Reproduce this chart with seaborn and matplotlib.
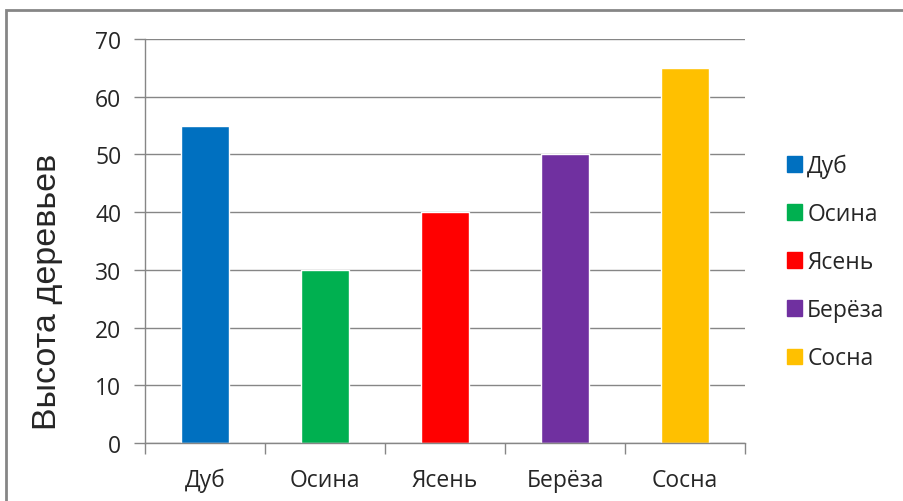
import pandas as pd
import matplotlib
matplotlib.use("Agg")
import matplotlib.pyplot as plt
import matplotlib.patches as mpatches
import seaborn as sns

trees = ["Дуб", "Осина", "Ясень", "Берёза", "Сосна"]
heights = [55, 30, 40, 50, 65]
colors = ["#0070C0", "#00B050", "#FF0000", "#7030A0", "#FFC000"]
y_label = "Высота деревьев"

grid_col = "#868686"

sns.set_style("white")
plt.rcParams["font.family"] = ["Open Sans", "DejaVu Sans"]

W, H = 904, 502
fig = plt.figure(figsize=(W / 100, H / 100), dpi=100)
ax = fig.add_axes([145 / W, (H - 444) / H, 600 / W, 404 / H])

df = pd.DataFrame({"tree": trees, "height": heights})
sns.barplot(data=df, x="tree", y="height", hue="tree", palette=colors,
            dodge=False, width=0.4, legend=False, saturation=1, ax=ax)

ax.set_xlim(-0.5, len(trees) - 0.5)
ax.set_ylim(0, 70)
ax.set_yticks(range(0, 71, 10))
ax.yaxis.grid(True, color=grid_col, linewidth=1)
ax.set_axisbelow(True)

ax.set_xticks([i - 0.5 for i in range(len(trees) + 1)], minor=True)
ax.tick_params(axis="x", which="major", length=0, pad=18, labelsize=16.5)
ax.tick_params(axis="x", which="minor", length=8, width=1, color=grid_col, direction="out", bottom=True)
ax.tick_params(axis="y", length=8, width=1, color=grid_col, direction="out", left=True, pad=9, labelsize=16.5)

for s in ["top", "right"]:
    ax.spines[s].set_visible(False)
for s in ["left", "bottom"]:
    ax.spines[s].set_color(grid_col)
    ax.spines[s].set_linewidth(1)

ax.set_xlabel("")
ax.set_ylabel(y_label, fontsize=24.5, family=["Liberation Sans", "DejaVu Sans"])
ax.yaxis.set_label_coords(-(145 - 63) / 600, (444 - 292) / 404)

handles = [mpatches.Patch(color=c, label=t) for c, t in zip(colors, trees)]
fig.legend(handles=handles, loc="upper left", bbox_to_anchor=(766 / W, 1 - 134 / H),
           frameon=False, fontsize=16.5, handlelength=0.65, handleheight=0.65,
           handletextpad=0.25, labelspacing=1.05, borderpad=0.4)

border = mpatches.Rectangle((6.5 / W, -0.1), 1.2, (H - 10.5) / H + 0.1,
                            transform=fig.transFigure, fill=False,
                            edgecolor=grid_col, linewidth=2)
fig.patches.append(border)

fig.savefig("out.png", dpi=100)
